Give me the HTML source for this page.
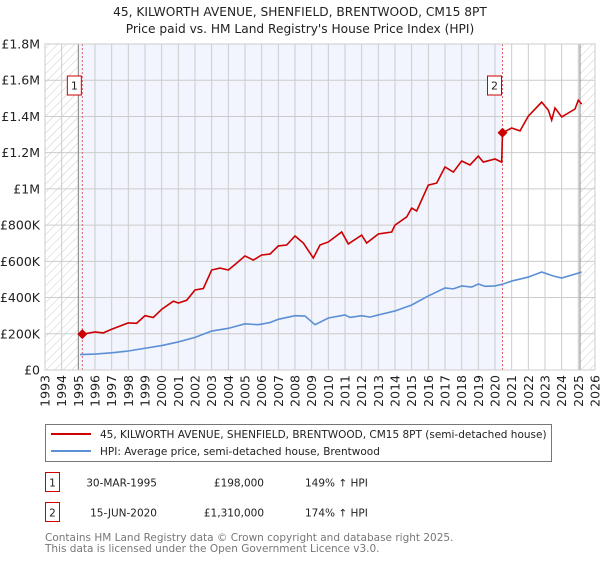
<!DOCTYPE html>
<html><head><meta charset="utf-8">
<style>
body{margin:0;background:#fff;font-family:"Liberation Sans","DejaVu Sans",sans-serif;}
svg text{font-family:"DejaVu Sans","Liberation Sans",sans-serif;}
</style></head>
<body>
<svg id="chart" width="600" height="560" xmlns="http://www.w3.org/2000/svg">
<defs>
<pattern id="hatch" width="6" height="6" patternUnits="userSpaceOnUse" patternTransform="rotate(45)">
<line x1="0" y1="0" x2="0" y2="6" stroke="#ccc" stroke-width="1"/>
</pattern>
</defs>
<text x="300" y="16" text-anchor="middle" font-size="12.2" fill="#222">45, KILWORTH AVENUE, SHENFIELD, BRENTWOOD, CM15 8PT</text>
<text x="300" y="33" text-anchor="middle" font-size="12.2" fill="#222">Price paid vs. HM Land Registry's House Price Index (HPI)</text>
<g id="plot"></g>
</svg>
<script>
const yearTicks=[1993,1994,1995,1996,1997,1998,1999,2000,2001,2002,2003,2004,2005,2006,2007,2008,2009,2010,2011,2012,2013,2014,2015,2016,2017,2018,2019,2020,2021,2022,2023,2024,2025,2026];
const yTicks=[0,200000,400000,600000,800000,1000000,1200000,1400000,1600000,1800000];
const yTickLabels=["£0","£200K","£400K","£600K","£800K","£1M","£1.2M","£1.4M","£1.6M","£1.8M"];
const hpiYears=[1995.1,1996,1997,1998,1999,2000,2001,2002,2003,2004,2005,2005.8,2006.5,2007,2008,2008.6,2009.2,2010,2011,2011.3,2012,2012.5,2013,2014,2015,2016,2017,2017.5,2018,2018.6,2019,2019.4,2020,2020.5,2021,2022,2022.8,2023.5,2024,2025,2025.2];
const hpiValues=[85000,88000,95000,105000,120000,135000,155000,180000,215000,230000,255000,250000,262000,280000,300000,298000,250000,287000,304000,290000,300000,292000,304000,326000,359000,409000,453000,448000,464000,458000,475000,462000,464000,475000,491000,513000,541000,519000,508000,535000,541000];
const priceYears=[1995.25,1996,1996.5,1997,1998,1998.5,1999,1999.5,2000,2000.7,2001,2001.5,2002,2002.5,2003,2003.5,2004,2004.5,2005,2005.5,2006,2006.5,2007,2007.5,2008,2008.5,2009.1,2009.5,2010,2010.8,2011.2,2012,2012.3,2013,2013.8,2014,2014.7,2015,2015.3,2016,2016.5,2017,2017.5,2018,2018.5,2019,2019.3,2020,2020.4,2020.45,2021,2021.5,2022,2022.8,2023.2,2023.4,2023.6,2024,2024.8,2025,2025.2];
const priceValues=[198000,210000,205000,225000,260000,258000,300000,290000,335000,380000,370000,385000,442000,450000,552000,563000,552000,590000,630000,607000,635000,640000,685000,690000,740000,701000,618000,690000,707000,762000,696000,745000,701000,751000,762000,800000,845000,894000,878000,1021000,1032000,1121000,1093000,1154000,1132000,1181000,1148000,1165000,1148000,1310000,1336000,1320000,1402000,1479000,1435000,1380000,1447000,1397000,1441000,1490000,1468000];
const sales=[{n:"1",year:1995.24,value:198000},{n:"2",year:2020.45,value:1310000}];

const X0=45,X1=595,Y0=370,Y1=44;
const xs=y=>X0+(y-1993)/(2026-1993)*(X1-X0);
const ys=v=>Y0-v/1800000*(Y0-Y1);
const NS="http://www.w3.org/2000/svg";
const g=document.getElementById('plot');
function mk(t,a,p){const e=document.createElementNS(NS,t);for(const k in a)e.setAttribute(k,a[k]);(p||g).appendChild(e);return e;}

let e;
e=mk('rect',{x:X0,y:Y1,width:X1-X0,height:Y0-Y1,fill:'#fff'});


e=mk('rect',{x:xs(1995),y:Y1,width:xs(2020.45)-xs(1995),height:Y0-Y1,fill:'#f2f5fd'});


e=mk('rect',{x:X0,y:Y1,width:xs(1995)-X0,height:Y0-Y1,fill:'url(#hatch)'});


e=mk('rect',{x:xs(2025.1),y:Y1,width:X1-xs(2025.1),height:Y0-Y1,fill:'url(#hatch)'});



yearTicks.forEach(yr=>{
 e=mk('line',{x1:xs(yr),x2:xs(yr),y1:Y1,y2:Y0,stroke:'#ccc','stroke-width':1});
 
 
 e=mk('text',{x:0,y:0,transform:`translate(${xs(yr)+4.5},${Y0+5}) rotate(-90)`,'text-anchor':'end','font-size':'12.5',fill:'#222'});
 e.textContent=yr;
 
 
});
yTicks.forEach((v,i)=>{
 e=mk('line',{x1:X0,x2:X1,y1:ys(v),y2:ys(v),stroke:'#ccc','stroke-width':1});
 
 
 e=mk('text',{x:X0-5,y:ys(v)+4.5,'text-anchor':'end','font-size':'12.5',fill:'#222'});
 e.textContent=yTickLabels[i];
 
 
});
e=mk('line',{x1:xs(1995),x2:xs(1995),y1:Y1,y2:Y0,stroke:'#888','stroke-width':1});


e=mk('line',{x1:xs(2025.1),x2:xs(2025.1),y1:Y1,y2:Y0,stroke:'#888','stroke-width':1});



sales.forEach(s=>{
 e=mk('line',{x1:xs(s.year),x2:xs(s.year),y1:Y1,y2:Y0,stroke:'#e06060','stroke-width':1,'stroke-dasharray':'2,2'});
 
 
});

e=mk('polyline',{points:hpiYears.map((y,i)=>xs(y)+','+ys(hpiValues[i])).join(' '),fill:'none',stroke:'#5b8fd6','stroke-width':1.6});


e=mk('polyline',{points:priceYears.map((y,i)=>xs(y)+','+ys(priceValues[i])).join(' '),fill:'none',stroke:'#cc0000','stroke-width':1.6});



sales.forEach(s=>{
 const cx=xs(s.year),cy=ys(s.value);
 e=mk('polygon',{points:`${cx},${cy-5} ${cx+5},${cy} ${cx},${cy+5} ${cx-5},${cy}`,fill:'#cc0000'});
 
 
 e=mk('rect',{x:cx-15,y:76,width:14,height:19,fill:'#fff',stroke:'#cc0000','stroke-width':1});
 
 
 e=mk('text',{x:cx-8,y:89.5,'text-anchor':'middle','font-size':'11',fill:'#222'});
 e.textContent=s.n;
 
 
});
e=mk('rect',{x:X0,y:Y1,width:X1-X0,height:Y0-Y1,fill:'none',stroke:'#ccc','stroke-width':1});



// legend
e=mk('rect',{x:45.5,y:424.5,width:506,height:37,fill:'#fff',stroke:'#777','stroke-width':1});


e=mk('line',{x1:51,x2:91,y1:434,y2:434,stroke:'#cc0000','stroke-width':2});


e=mk('text',{x:100,y:438,'font-size':'10.5',fill:'#222'});
e.textContent='45, KILWORTH AVENUE, SHENFIELD, BRENTWOOD, CM15 8PT (semi-detached house)';


e=mk('line',{x1:51,x2:91,y1:451,y2:451,stroke:'#5b8fd6','stroke-width':2});


e=mk('text',{x:100,y:455,'font-size':'10.5',fill:'#222'});
e.textContent='HPI: Average price, semi-detached house, Brentwood';



// table
const rows=[["1","30-MAR-1995","£198,000","149% ↑ HPI",483],["2","15-JUN-2020","£1,310,000","174% ↑ HPI",513]];
rows.forEach(r=>{
 e=mk('rect',{x:45.5,y:r[4]-10.5,width:14,height:19,fill:'#fff',stroke:'#cc0000','stroke-width':1});
 
 
 e=mk('text',{x:52.5,y:r[4]+3.5,'text-anchor':'middle','font-size':'10.5',fill:'#222'});
 e.textContent=r[0];
 
 
 e=mk('text',{x:157,y:r[4]+3.5,'text-anchor':'end','font-size':'10.5',fill:'#222'});
 e.textContent=r[1];
 
 
 e=mk('text',{x:264,y:r[4]+3.5,'text-anchor':'end','font-size':'10.5',fill:'#222'});
 e.textContent=r[2];
 
 
 e=mk('text',{x:305,y:r[4]+3.5,'font-size':'10.5',fill:'#222'});
 e.textContent=r[3];
 
 
});
e=mk('text',{x:45,y:541,'font-size':'10.5',fill:'#777'});
e.textContent='Contains HM Land Registry data © Crown copyright and database right 2025.';


e=mk('text',{x:45,y:552,'font-size':'10.5',fill:'#777'});
e.textContent='This data is licensed under the Open Government Licence v3.0.';


</script>
</body></html>
